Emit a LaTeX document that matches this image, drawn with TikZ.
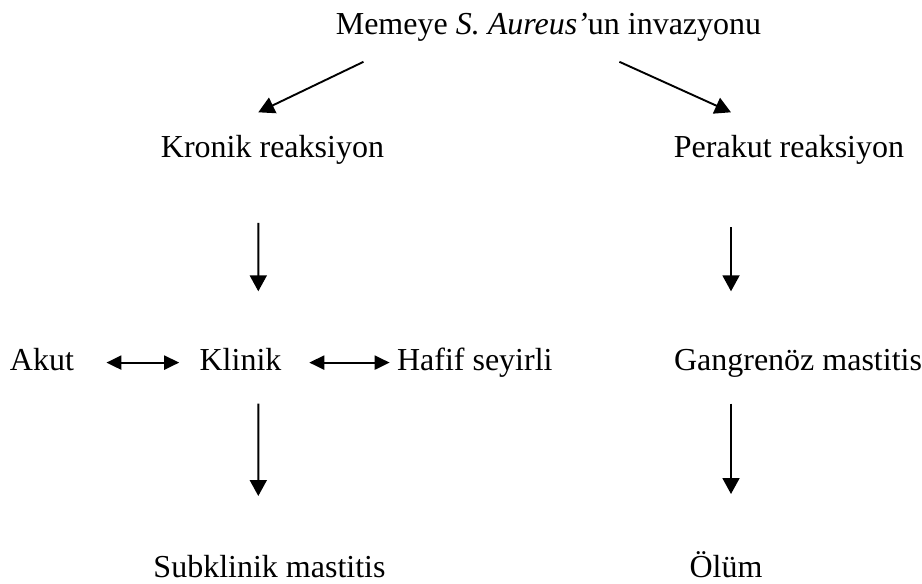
\documentclass[tikz,border=0pt]{standalone}
\usepackage{fontspec}
\setmainfont{Liberation Serif}
\usepackage{tikz}
\usetikzlibrary{calc}
\usetikzlibrary{arrows.meta}

\begin{document}
\begin{tikzpicture}[x=0.5pt, y=-0.5pt,
  every node/.style={font=\fontsize{16}{19}\selectfont, inner sep=0pt, text height=11pt, text depth=3pt, anchor=base},
  arr/.style={-{Triangle[length=8pt,width=8.5pt]}, line width=0.95pt},
  dbl/.style={{Triangle[length=7.5pt,width=7pt]}-{Triangle[length=7.5pt,width=7pt]}, line width=1.1pt}]
\useasboundingbox (0,0) rectangle (922,584);
\node (inv) at (548.5,34) {Memeye \textit{S. Aureus’}un invazyonu};
\node (kronik) at (272.5,157) {Kronik reaksiyon};
\node (perakut) at (789,157) {Perakut reaksiyon};
\node (akut) at (42,370.6) {Akut};
\node (klinik) at (240.5,370.6) {Klinik};
\node (hafif) at (474.8,370.6) {Hafif seyirli};
\node (gangren) at (798,370.6) {Gangrenöz mastitis};
\node[text depth=0pt] (subklinik) at (269.5,577) {Subklinik mastitis};
\node[text depth=0pt] (olum) at (726,577) {Ölüm};

\draw[arr] ($(inv.base)+(-185,27.8)$) -- ($(kronik.base)+(-14.2,-44.7)$);
\draw[arr] ($(inv.base)+(70.9,27.8)$) -- ($(perakut.base)+(-58,-44.7)$);

\draw[arr] ($(kronik.base)+(-14.2,65.8)$) -- ($(klinik.base)+(17.8,-79.3)$);
\draw[arr] ($(perakut.base)+(-58,70)$) -- ($(gangren.base)+(-67,-79.3)$);

\draw[dbl, shorten <=16pt, shorten >=10pt] (akut) -- (klinik);
\draw[dbl, shorten <=13.75pt, shorten >=3.5pt] (klinik) -- (hafif);

\draw[arr] ($(klinik.base)+(17.8,33)$) -- ($(subklinik.base)+(-11.2,-81)$);
\draw[arr] ($(gangren.base)+(-67,33)$) -- ($(olum.base)+(5,-83)$);
\end{tikzpicture}
\end{document}
